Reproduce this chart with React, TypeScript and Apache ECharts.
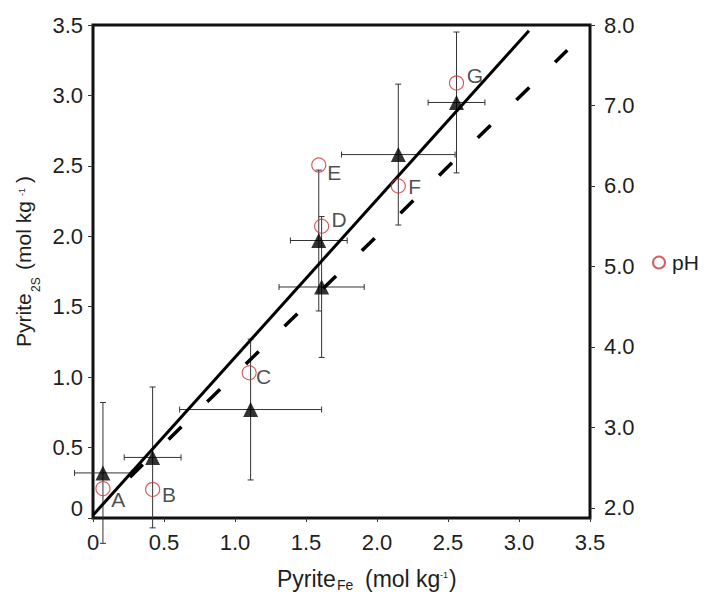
import React, { useEffect, useRef } from "react";
import * as echarts from "echarts";

// Black triangles: Pyrite_Fe (x) vs Pyrite_2S (y) with error bars
const pyriteFe = [0.07, 0.42, 1.11, 1.59, 1.61, 2.15, 2.56];
const pyrite2S = [0.32, 0.43, 0.77, 1.97, 1.64, 2.58, 2.95];
const feErr = [0.2, 0.2, 0.5, 0.2, 0.3, 0.4, 0.2];
const s2Err = [0.5, 0.5, 0.5, 0.5, 0.5, 0.5, 0.5];

// Red circles: pH (right axis)
const samples = ["A", "B", "C", "D", "E", "F", "G"];
const phX = [0.07, 0.42, 1.1, 1.61, 1.59, 2.15, 2.56];
const phValues = [2.24, 2.23, 3.68, 5.5, 6.26, 6.0, 7.28];

// Lines
const solidLineX = [0, 3.07];
const solidLineY = [0.02, 3.46];
const dashedLineX = [0.26, 3.34];
const dashedLineY = [0.29, 3.32];

// Ticks
const xTicks = [0, 0.5, 1, 1.5, 2, 2.5, 3, 3.5];
const phTicks = [2, 3, 4, 5, 6, 7, 8];

// label placement (style, not data)
const labelDx = [16, 17, 15, 18, 16, 17, 19];
const labelDy = [11, 6, 4, -6, 8, 1, -7];

const FONT = "'Liberation Sans', Arial, Helvetica, sans-serif";
const TXT = "#1e1e1e";
const RED = "#c8373c";

type Piece = { t: string; u: number; fs: number; b: number };

function titlePieces(pieces: Piece[]) {
  return pieces.map((p) => ({
    type: "text",
    x: p.u,
    y: p.b - 0.3465 * p.fs,
    style: {
      text: p.t,
      fontSize: p.fs,
      fontFamily: FONT,
      fill: TXT,
      align: "left",
      verticalAlign: "middle",
    },
  }));
}

export default function App() {
  const ref = useRef<HTMLDivElement>(null);
  useEffect(() => {
    if (!ref.current) return;
    const chart = echarts.init(ref.current, null, { renderer: "svg" });
    const errData = pyriteFe.map((x, i) => [x, pyrite2S[i], feErr[i], s2Err[i]]);
    const bottomTitle: Piece[] = [
      { t: "Pyrite", u: 0, fs: 23, b: 587 },
      { t: "Fe", u: 60, fs: 14, b: 590 },
      { t: "(mol kg", u: 88, fs: 23, b: 587 },
      { t: "-1", u: 163, fs: 9, b: 578 },
      { t: ")", u: 172, fs: 23, b: 587 },
    ];
    const leftTitle: Piece[] = [
      { t: "Pyrite", u: 0, fs: 21, b: 31 },
      { t: "2S", u: 55, fs: 12, b: 40 },
      { t: "(mol kg", u: 77, fs: 21, b: 31 },
      { t: "-1", u: 151, fs: 9, b: 25 },
      { t: ")", u: 164, fs: 21, b: 31 },
    ];
    const option: any = {
      animation: false,
      backgroundColor: "#fff",
      textStyle: { fontFamily: FONT },
      grid: {
        left: 93,
        right: 124,
        top: 25,
        bottom: 91,
        show: true,
        borderColor: "#111",
        borderWidth: 3,
        backgroundColor: "transparent",
      },
      legend: {
        data: ["pH"],
        left: 647,
        top: 247,
        itemWidth: 12,
        itemHeight: 12,
        itemGap: 5,
        textStyle: { fontSize: 21, color: TXT, fontFamily: FONT, padding: [0, 0, 0, 2] },
      },
      xAxis: {
        type: "value",
        min: 0,
        max: 3.5,
        interval: 0.5,
        axisLine: { show: false },
        axisTick: { show: true, inside: false, length: 4, lineStyle: { color: "#333", width: 1 } },
        splitLine: { show: false },
        axisLabel: {
          customValues: xTicks,
          margin: 13,
          fontSize: 22,
          color: TXT,
          fontFamily: FONT,
          formatter: (v: number) => (v === 0 ? "0" : v.toFixed(1)),
        },
      },
      yAxis: [
        {
          type: "value",
          min: 0,
          max: 3.5,
          interval: 0.5,
          axisLine: { show: false },
          axisTick: { show: true, length: 5, lineStyle: { color: "#333", width: 1 } },
          splitLine: { show: false },
          axisLabel: {
            margin: 10,
            fontSize: 22,
            color: TXT,
            fontFamily: FONT,
            formatter: (v: number) => (v === 0 ? "{z|0}" : v.toFixed(1)),
            rich: { z: { fontSize: 22, color: TXT, fontFamily: FONT, padding: [0, 0, 20, 0] } },
          },
        },
        {
          type: "value",
          position: "right",
          min: 1.875,
          max: 8,
          axisLine: { show: false },
          axisTick: {
            show: true,
            length: 5,
            customValues: phTicks,
            lineStyle: { color: "#333", width: 1 },
          },
          splitLine: { show: false },
          axisLabel: {
            customValues: phTicks,
            margin: 14,
            fontSize: 22,
            color: TXT,
            fontFamily: FONT,
            formatter: (v: number) => v.toFixed(1),
          },
        },
      ],
      series: [
        {
          type: "custom",
          name: "err",
          clip: false,
          z: 2,
          data: errData,
          encode: { x: 0, y: 1 },
          renderItem: (params: any, api: any) => {
            const x = api.value(0);
            const y = api.value(1);
            const ex = api.value(2);
            const ey = api.value(3);
            const l = api.coord([x - ex, y]);
            const r = api.coord([x + ex, y]);
            const t = api.coord([x, y + ey]);
            const b = api.coord([x, y - ey]);
            const cap = 3;
            const style = { stroke: "#333", lineWidth: 1 };
            return {
              type: "group",
              children: [
                { type: "line", shape: { x1: l[0], y1: l[1], x2: r[0], y2: r[1] }, style },
                { type: "line", shape: { x1: l[0], y1: l[1] - cap, x2: l[0], y2: l[1] + cap }, style },
                { type: "line", shape: { x1: r[0], y1: r[1] - cap, x2: r[0], y2: r[1] + cap }, style },
                { type: "line", shape: { x1: t[0], y1: t[1], x2: b[0], y2: b[1] }, style },
                { type: "line", shape: { x1: t[0] - cap, y1: t[1], x2: t[0] + cap, y2: t[1] }, style },
                { type: "line", shape: { x1: b[0] - cap, y1: b[1], x2: b[0] + cap, y2: b[1] }, style },
              ],
            };
          },
        },
        {
          type: "line",
          name: "fit",
          z: 3,
          showSymbol: false,
          symbol: "none",
          data: solidLineX.map((x, i) => [x, solidLineY[i]]),
          lineStyle: { color: "#000", width: 3 },
        },
        {
          type: "line",
          name: "dashed",
          z: 3,
          showSymbol: false,
          symbol: "none",
          data: dashedLineX.map((x, i) => [x, dashedLineY[i]]),
          lineStyle: { color: "#000", width: 3.5, type: [18, 36] },
        },
        {
          type: "scatter",
          name: "pH",
          yAxisIndex: 1,
          z: 4,
          symbol: "circle",
          symbolSize: 14,
          itemStyle: { color: "rgba(255,255,255,0)", borderColor: RED, borderWidth: 1.2 },
          label: {
            show: true,
            formatter: "{b}",
            fontSize: 21,
            color: TXT,
            fontFamily: FONT,
            align: "center",
            verticalAlign: "middle",
          },
          data: phX.map((x, i) => ({
            name: samples[i],
            value: [x, phValues[i]],
            label: { position: [7 + labelDx[i], 7 + labelDy[i]] },
          })),
        },
        {
          type: "scatter",
          name: "Pyrite",
          z: 5,
          symbol: "triangle",
          symbolSize: 15,
          itemStyle: { color: "#000" },
          data: pyriteFe.map((x, i) => [x, pyrite2S[i]]),
        },
      ],
      graphic: [
        {
          type: "group",
          x: 277,
          y: 0,
          children: titlePieces(bottomTitle),
        },
        {
          type: "group",
          x: 0,
          y: 347,
          rotation: Math.PI / 2,
          children: titlePieces(leftTitle),
        },
      ],
    };
    chart.setOption(option);
    return () => chart.dispose();
  }, []);
  return (
    <div
      ref={ref}
      style={{ position: "fixed", left: 0, top: 0, width: 714, height: 609 }}
    />
  );
}
